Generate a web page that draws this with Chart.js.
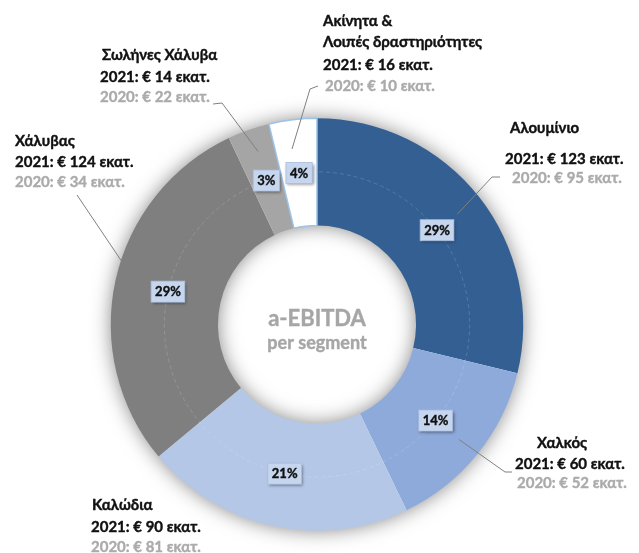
<!DOCTYPE html>
<html>
<head>
<meta charset="utf-8">
<script src="https://cdn.jsdelivr.net/npm/chart.js@4"></script>
<style>
  html, body { margin: 0; padding: 0; background: #ffffff; }
  #chart { display: block; }
</style>
</head>
<body>
<canvas id="chart" width="639" height="553"></canvas>
<script>
// data
const categories = ['Αλουμίνιο', 'Χαλκός', 'Καλώδια', 'Χάλυβας', 'Σωλήνες Χάλυβα', 'Ακίνητα & Λοιπές δραστηριότητες'];
const titleLines = [['Αλουμίνιο'], ['Χαλκός'], ['Καλώδια'], ['Χάλυβας'], ['Σωλήνες Χάλυβα'], ['Ακίνητα &', 'Λοιπές δραστηριότητες']];
const values2021 = [123, 60, 90, 124, 14, 16];
const values2020 = [95, 52, 81, 34, 22, 10];
const unitLabel = 'εκατ.';
const centerLines = ['a-EBITDA', 'per segment'];

const colors = ['#345f93', '#8eaadb', '#b4c7e7', '#7f7f7f', '#a5a5a5', '#ffffff'];
const borders = ['#345f93', '#8eaadb', '#b4c7e7', '#7f7f7f', '#a5a5a5', '#9dc3e6'];
const borderWidths = [0, 0, 0, 0, 0, 1.5];

// where the outside labels go (x, y of each line: title lines, then 2021, then 2020)
const labelPos = [
  [[510, 128], [505, 159], [512, 178]],
  [[537, 443], [515, 464], [517, 483]],
  [[92, 505], [91, 527], [91, 547]],
  [[15, 141], [15, 162], [15, 182]],
  [[102, 55], [100, 77], [100, 97]],
  [[323, 21], [323, 42], [323, 65], [325, 86]]
];
// leader: fixed start points near the text, then a point on the arc (t along arc, r across ring)
const leaders = [
  { pts: [[500, 177], [492, 177]], t: 0.5, r: 0.74 },
  { pts: [[512, 472], [505, 472]], t: 0.5, r: 0.78 },
  null,
  { pts: [[77, 195]], t: 0.55, r: 0.98 },
  { pts: [[213, 104], [222, 103]], t: 0.55, r: 0.78 },
  { pts: [[318, 86], [310, 89]], t: 0.4, r: 0.73 }
];

const FONT = 'Lato, "Open Sans", sans-serif';
const total = values2021.reduce((a, b) => a + b, 0);

// bold text with a hairline stroke so it looks as heavy as the original
function heavyText(ctx, txt, x, y, col) {
  ctx.fillStyle = col;
  ctx.strokeStyle = col;
  ctx.lineWidth = 0.4;
  ctx.fillText(txt, x, y);
  ctx.strokeText(txt, x, y);
}

const ringShadow = {
  id: 'ringShadow',
  beforeDatasetsDraw(chart) {
    const arc = chart.getDatasetMeta(0).data[0];
    const p = arc.getProps(['x', 'y', 'innerRadius', 'outerRadius'], true);
    const ctx = chart.ctx;
    ctx.save();
    ctx.shadowColor = 'rgba(0,0,0,0.5)';
    ctx.shadowBlur = 20;
    ctx.fillStyle = '#ffffff';
    ctx.beginPath();
    ctx.arc(p.x, p.y, p.outerRadius - 1, 0, Math.PI * 2);
    ctx.arc(p.x, p.y, p.innerRadius + 1, 0, Math.PI * 2, true);
    ctx.fill();
    ctx.restore();
  }
};

const segmentLabels = {
  id: 'segmentLabels',
  afterDatasetsDraw(chart) {
    const ctx = chart.ctx;
    const arcs = chart.getDatasetMeta(0).data;
    const p0 = arcs[0].getProps(['x', 'y', 'innerRadius', 'outerRadius'], true);
    const cx = p0.x, cy = p0.y;
    const midR = (p0.innerRadius + p0.outerRadius) / 2;

    // faint dashed circle through the middle of the ring
    ctx.save();
    ctx.strokeStyle = 'rgba(255,255,255,0.2)';
    ctx.lineWidth = 0.8;
    ctx.setLineDash([4, 3]);
    ctx.beginPath();
    ctx.arc(cx, cy, midR, 0, Math.PI * 2);
    ctx.stroke();
    ctx.restore();

    // leader lines
    ctx.save();
    ctx.strokeStyle = '#808080';
    ctx.lineWidth = 1;
    leaders.forEach((ld, i) => {
      if (!ld) return;
      const a = arcs[i].getProps(['startAngle', 'endAngle', 'innerRadius', 'outerRadius'], true);
      const ang = a.startAngle + (a.endAngle - a.startAngle) * ld.t;
      const rr = a.innerRadius + (a.outerRadius - a.innerRadius) * ld.r;
      ctx.beginPath();
      ctx.moveTo(ld.pts[0][0], ld.pts[0][1]);
      for (let k = 1; k < ld.pts.length; k++) ctx.lineTo(ld.pts[k][0], ld.pts[k][1]);
      ctx.lineTo(cx + Math.cos(ang) * rr, cy + Math.sin(ang) * rr);
      ctx.stroke();
    });
    ctx.restore();

    // percentage boxes
    ctx.save();
    ctx.font = 'bold 13px ' + FONT;
    ctx.textAlign = 'center';
    ctx.textBaseline = 'middle';
    arcs.forEach((arc, i) => {
      const pos = arc.tooltipPosition(true);
      const txt = Math.round(values2021[i] / total * 100) + '%';
      const w = ctx.measureText(txt).width + 8;
      const h = 21;
      ctx.save();
      ctx.shadowColor = 'rgba(0,0,0,0.45)';
      ctx.shadowBlur = 3;
      ctx.shadowOffsetX = 1.5;
      ctx.shadowOffsetY = 1.5;
      ctx.fillStyle = '#c6d6ee';
      ctx.fillRect(pos.x - w / 2, pos.y - h / 2, w, h);
      ctx.restore();
      ctx.strokeStyle = '#a9bfdf';
      ctx.lineWidth = 0.8;
      ctx.strokeRect(pos.x - w / 2, pos.y - h / 2, w, h);
      heavyText(ctx, txt, pos.x, pos.y + 0.5, '#111111');
    });
    ctx.restore();

    // outside labels
    ctx.save();
    ctx.textAlign = 'left';
    ctx.textBaseline = 'middle';
    ctx.font = 'bold 15px ' + FONT;
    categories.forEach((c, i) => {
      const lines = titleLines[i].map(t => ({ t, col: '#111111' }));
      lines.push({ t: '2021: € ' + values2021[i] + ' ' + unitLabel, col: '#111111' });
      lines.push({ t: '2020: € ' + values2020[i] + ' ' + unitLabel, col: '#ababab' });
      lines.forEach((ln, k) => {
        heavyText(ctx, ln.t, labelPos[i][k][0], labelPos[i][k][1], ln.col);
      });
    });
    ctx.restore();

    // center text
    ctx.save();
    ctx.textAlign = 'center';
    ctx.textBaseline = 'middle';
    ctx.font = 'bold 22px ' + FONT;
    heavyText(ctx, centerLines[0], cx, cy - 6, '#a6a6a6');
    ctx.font = 'bold 18px ' + FONT;
    heavyText(ctx, centerLines[1], cx, cy + 19, '#a6a6a6');
    ctx.restore();
  }
};

const ctx = document.getElementById('chart').getContext('2d');
const chart = new Chart(ctx, {
  type: 'doughnut',
  data: {
    labels: categories,
    datasets: [{
      data: values2021,
      backgroundColor: colors,
      borderColor: borders,
      borderWidth: borderWidths,
      hoverOffset: 0
    }]
  },
  options: {
    responsive: false,
    animation: false,
    events: [],
    cutout: '48%',
    layout: { padding: { left: 110, right: 115, top: 117, bottom: 21 } },
    plugins: {
      legend: { display: false },
      tooltip: { enabled: false }
    }
  },
  plugins: [ringShadow, segmentLabels]
});
</script>
</body>
</html>
